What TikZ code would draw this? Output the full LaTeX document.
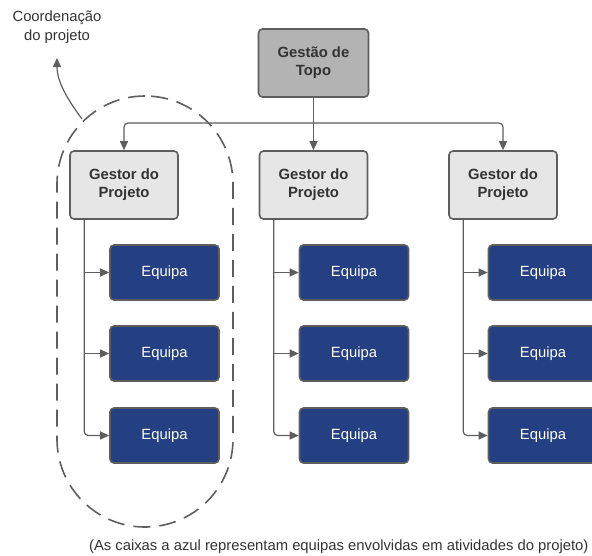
\documentclass[tikz,border=0pt]{standalone}
\usepackage{fontspec}
\setmainfont{Liberation Sans}
\usetikzlibrary{arrows.meta,calc}
\definecolor{linegray}{HTML}{5E5E5E}
\definecolor{textgray}{HTML}{333333}
\definecolor{topfill}{HTML}{B3B3B3}
\definecolor{mgrfill}{HTML}{E6E6E6}
\definecolor{teamblue}{HTML}{243F82}
\tikzset{
  box/.style={draw=linegray, line width=1.6pt, rounded corners=4pt, align=center, inner sep=0pt},
  topbox/.style={box, fill=topfill, minimum width=110pt, minimum height=68pt, font=\bfseries\fontsize{14.8}{18}\selectfont, text=textgray},
  mgrbox/.style={box, fill=mgrfill, minimum width=108pt, minimum height=68pt, font=\bfseries\fontsize{14.8}{18}\selectfont, text=textgray},
  teambox/.style={box, fill=teamblue, minimum width=109pt, minimum height=55pt, font=\fontsize{14.8}{17}\selectfont, text=white},
  conn/.style={draw=linegray, line width=1.2pt, -{Triangle[length=9pt,width=8pt]}},
  note/.style={font=\fontsize{14.8}{19}\selectfont, text=textgray, align=center}
}
\begin{document}
\begin{tikzpicture}[x=1pt,y=-1pt]
\useasboundingbox (0,0) rectangle (592,555);
\clip (0,0) rectangle (592,555);

% top management and project managers
\node[topbox] (top) at (313.5,63) {Gestão de\\Topo};
\node[mgrbox] (g1) at (124,185) {Gestor do\\Projeto};
\node[mgrbox] (g2) at (313.5,185) {Gestor do\\Projeto};
\node[mgrbox] (g3) at (503,185) {Gestor do\\Projeto};

% teams
\foreach \c/\x in {1/164.5,2/354,3/543}{
  \node[teambox] (e\c1) at (\x,272.5) {Equipa};
  \node[teambox] (e\c2) at (\x,353.5) {Equipa};
  \node[teambox] (e\c3) at (\x,435.5) {Equipa};
}

% distribution bus from the top box
\coordinate (bus) at (top.south |- 0,123);
\draw[conn] (top.south) -- (g2.north);
\draw[conn, rounded corners=4pt] (bus) -| (g1.north);
\draw[conn, rounded corners=4pt] (bus) -| (g3.north);

% trunks from each manager down to the teams
\foreach \c in {1,2,3}{
  \coordinate (t\c) at ($(g\c.south west)+(15,0)$);
  \draw[conn, rounded corners=4pt] (t\c) |- (e\c3.west);
  \draw[conn] (t\c |- e\c1.west) -- (e\c1.west);
  \draw[conn] (t\c |- e\c2.west) -- (e\c2.west);
}

% project coordination group
\node[draw=linegray, line width=1.6pt, dash pattern=on 17pt off 9pt,
      minimum width=176pt, minimum height=431pt, rounded corners=87.9pt,
      inner sep=0pt] (grp) at (145,311.5) {};

\node[note] (coordlabel) at (57,27) {Coordenação\\do projeto};
\coordinate (grpTop) at (82,119);
\coordinate (coordTip) at (57,58);
\draw[conn] (grpTop) .. controls (68,100) and (57,82) .. (coordTip);

\node[note, anchor=east] (caption) at (592,547)
  {(As caixas a azul representam equipas envolvidas em atividades do projeto)};
\end{tikzpicture}
\end{document}
